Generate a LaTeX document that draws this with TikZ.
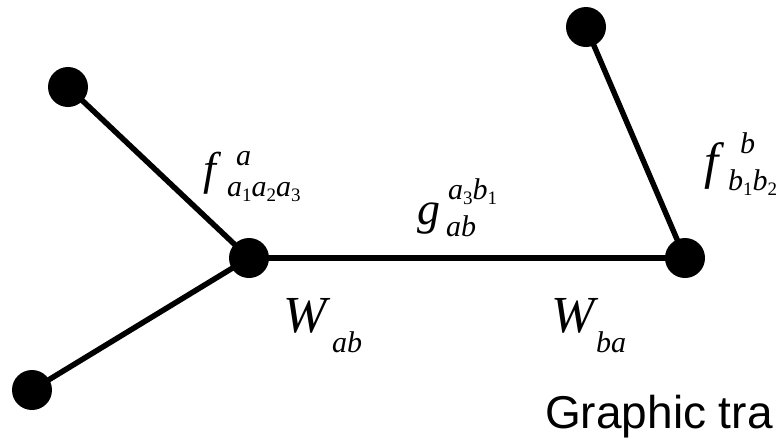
\documentclass[tikz,border=0pt]{standalone}
\usepackage{fontspec}
\setmainfont{Liberation Serif}
\newfontfamily\arialfont{Liberation Sans}
\newcommand\Fsz[1]{\fontsize{#1}{#1}\selectfont}
\newcommand\dg[1]{\raisebox{-5pt}{\Fsz{19}\upshape #1}}
\tikzset{
  dot/.style={circle,fill=black,inner sep=0pt,minimum size=40pt},
  edge/.style={line width=5.5pt},
  lbl/.style={anchor=base west,inner sep=0pt},
  big/.style={lbl,font=\Fsz{46}\itshape},
  bigW/.style={lbl,font=\Fsz{52}\itshape},
  small/.style={lbl,font=\Fsz{30}\itshape},
}
\begin{document}
\begin{tikzpicture}[x=1pt,y=-1pt]
\useasboundingbox (0,0) rectangle (776,440);
\fill[white] (0,0) rectangle (776,440);
% nodes
\node[dot] (a1) at (68,87) {};
\node[dot] (a) at (249,258) {};
\node[dot] (a2) at (32,390) {};
\node[dot] (b) at (685,258) {};
\node[dot] (b1) at (586,27) {};
% edges
\draw[edge] (a1.center) -- (a.center);
\draw[edge] (a2.center) -- (a.center);
\draw[edge] (a.center) -- (b.center);
\draw[edge] (b1.center) -- (b.center);
% labels
\node[big] (fa) at (203,184) {f};
\node[small] (fasup) at (236,165) {a};
\node[small] (fasub) at (227,196) {a\dg{1}a\dg{2}a\dg{3}};
\node[big] (g) at (417,224) {g};
\node[small] (gsup) at (448,199) {a\dg{3}b\dg{1}};
\node[small] (gsub) at (446,236) {ab};
\node[big,font=\Fsz{51}\itshape] (fb) at (704,178) {f};
\node[small] (fbsup) at (740,153) {b};
\node[small] (fbsub) at (728,190) {b\dg{1}b\dg{2}};
\node[bigW] (wab) at (283,332) {W};
\node[small] (wabsub) at (332,352) {ab};
\node[bigW] (wba) at (551,332) {W};
\node[small] (wbasub) at (596,352) {ba};
\node[lbl,font=\arialfont\Fsz{46}] (gt) at (545,428) {Graphic tra};
\end{tikzpicture}
\end{document}
